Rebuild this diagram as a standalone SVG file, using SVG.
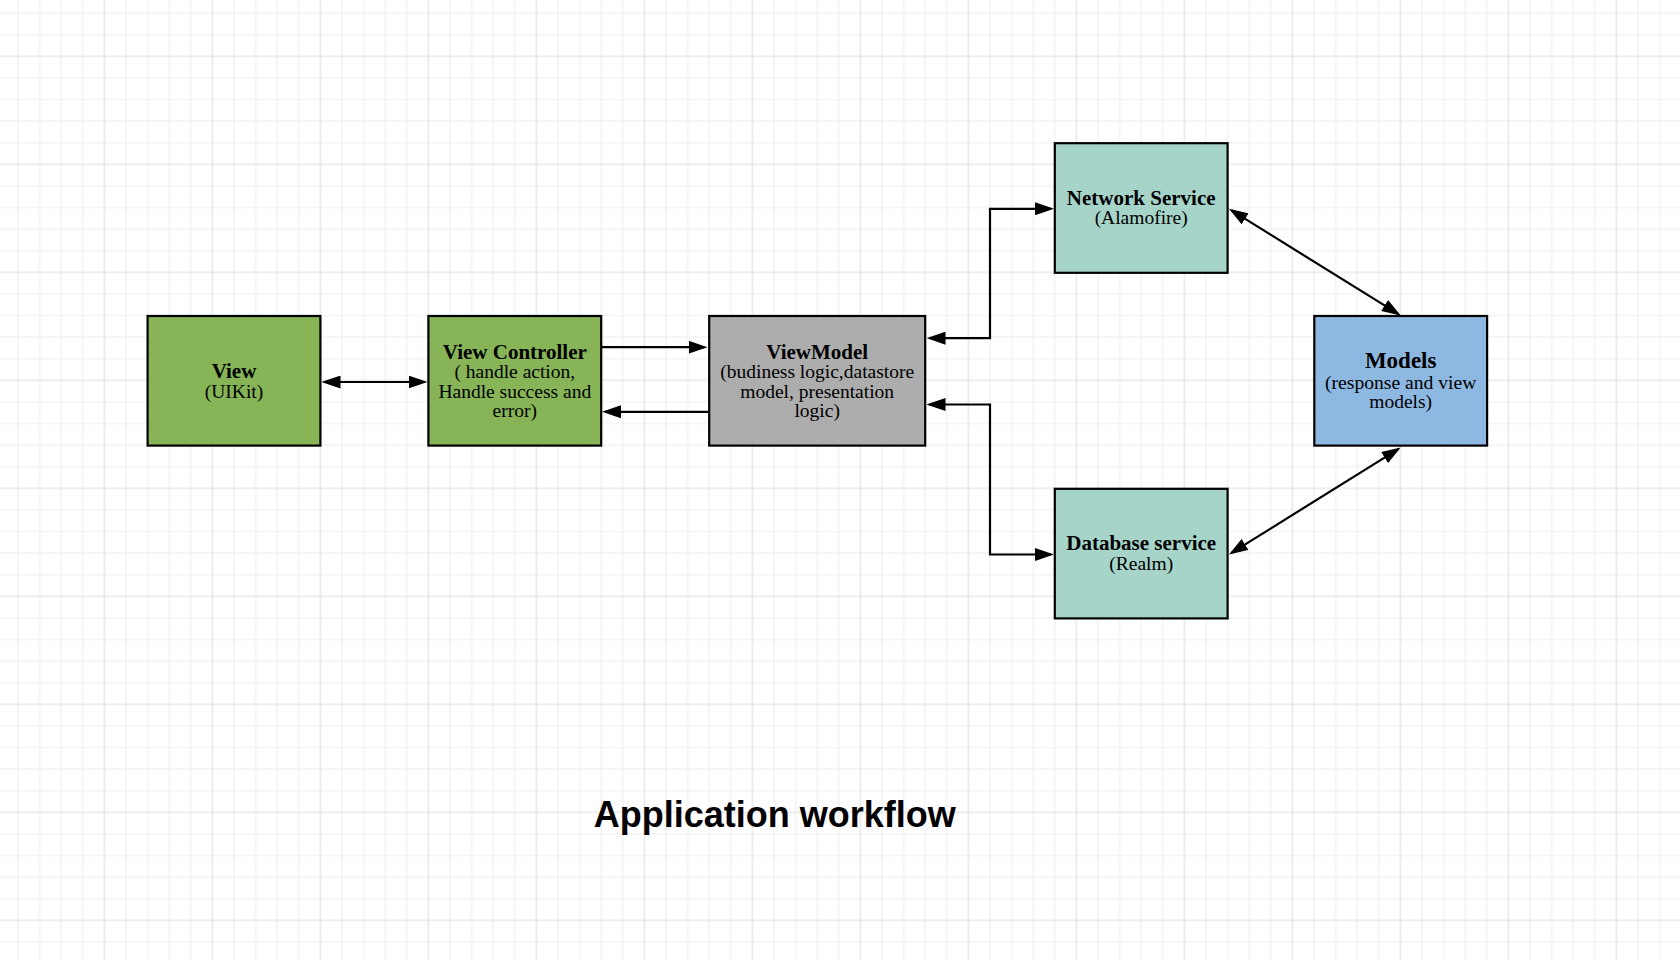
<svg xmlns="http://www.w3.org/2000/svg" width="1680" height="960" viewBox="0 0 1680 960">
<style>
.box{stroke:#000;stroke-width:2.2}
.t{font-family:"Liberation Serif","Times New Roman",serif;font-size:19.5px;fill:#000;text-anchor:middle}
.b{font-weight:bold;font-size:21px}
.conn{fill:none;stroke:#000;stroke-width:2.2}
.title{font-family:"Liberation Sans",Arial,sans-serif;font-weight:bold;font-size:36px;fill:#000;text-anchor:middle}
</style>
<defs>
<pattern id="grid" x="93.6" y="45.5" width="108" height="108" patternUnits="userSpaceOnUse">
<path d="M32.4 0V108M54 0V108M75.6 0V108M97.2 0V108M0 32.4H108M0 54H108M0 75.6H108M0 97.2H108" stroke="#ececec" stroke-width="1" fill="none"/>
<path d="M10.8 0V108M0 10.8H108" stroke="#dcdcdc" stroke-width="1" fill="none"/>
</pattern>
<marker id="arr" viewBox="0 0 19 13" refX="16" refY="6.5" markerWidth="19" markerHeight="13" markerUnits="userSpaceOnUse" orient="auto-start-reverse">
<path d="M0 0L19 6.5L0 13Z" fill="#000"/>
</marker>
</defs>
<rect width="1680" height="960" fill="#fff"/>
<rect width="1680" height="960" fill="url(#grid)"/>

<g id="connectors">
<path class="conn" d="M324.5 382H424.5" marker-start="url(#arr)" marker-end="url(#arr)"/>
<path class="conn" d="M602 347.2H704.5" marker-end="url(#arr)"/>
<path class="conn" d="M708 411.8H605" marker-end="url(#arr)"/>
<path class="conn" d="M929.5 338.2H990V208.8H1051" marker-start="url(#arr)" marker-end="url(#arr)"/>
<path class="conn" d="M929.5 404.5H990V554.5H1051" marker-start="url(#arr)" marker-end="url(#arr)"/>
<path class="conn" d="M1231.5 210.4L1398.2 313.9" marker-start="url(#arr)" marker-end="url(#arr)"/>
<path class="conn" d="M1231.5 552.9L1398.2 449.1" marker-start="url(#arr)" marker-end="url(#arr)"/>
</g>

<g id="view">
<rect class="box" x="147.6" y="316" width="172.8" height="129.6" fill="#86b456"/>
<text class="t b" x="234" y="378.2">View</text>
<text class="t" x="234" y="397.6">(UIKit)</text>
</g>

<g id="view-controller">
<rect class="box" x="428.4" y="316" width="172.8" height="129.6" fill="#86b456"/>
<text class="t b" x="514.8" y="358.8">View Controller</text>
<text class="t" x="514.8" y="378.2">( handle action,</text>
<text class="t" x="514.8" y="397.6">Handle success and</text>
<text class="t" x="514.8" y="417">error)</text>
</g>

<g id="viewmodel">
<rect class="box" x="709.2" y="316" width="216" height="129.6" fill="#adadad"/>
<text class="t b" x="817.2" y="358.8">ViewModel</text>
<text class="t" x="817.2" y="378.2">(budiness logic,datastore</text>
<text class="t" x="817.2" y="397.6">model, presentation</text>
<text class="t" x="817.2" y="417">logic)</text>
</g>

<g id="network-service">
<rect class="box" x="1054.8" y="143.2" width="172.8" height="129.6" fill="#a6d4c9"/>
<text class="t b" x="1141.2" y="204.6">Network Service</text>
<text class="t" x="1141.2" y="224">(Alamofire)</text>
</g>

<g id="database-service">
<rect class="box" x="1054.8" y="488.8" width="172.8" height="129.6" fill="#a6d4c9"/>
<text class="t b" x="1141.2" y="550.4">Database service</text>
<text class="t" x="1141.2" y="569.8">(Realm)</text>
</g>

<g id="models">
<rect class="box" x="1314.3" y="316" width="172.8" height="129.6" fill="#8db8e1"/>
<text class="t b" x="1400.7" y="368.3" style="font-size:23px">Models</text>
<text class="t" x="1400.7" y="388.8" style="font-size:19.6px">(response and view</text>
<text class="t" x="1400.7" y="408">models)</text>
</g>

<g id="title">
<text class="title" x="774.7" y="827">Application workflow</text>
</g>
</svg>
